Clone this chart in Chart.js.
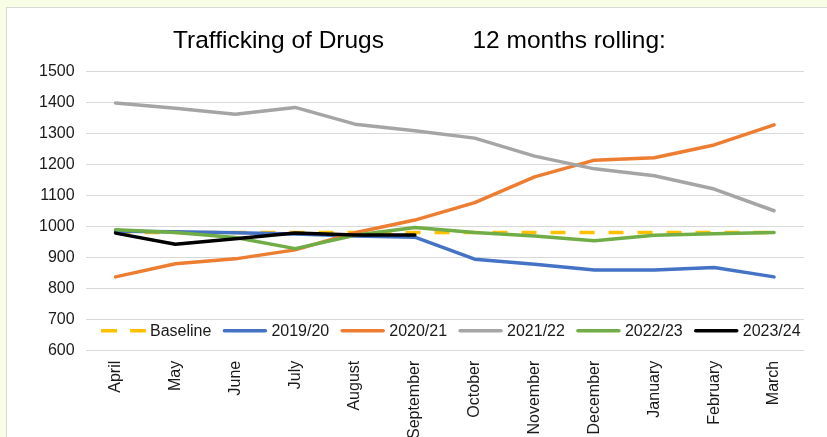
<!DOCTYPE html>
<html>
<head>
<meta charset="utf-8">
<script src="https://cdn.jsdelivr.net/npm/chart.js@4.4.1/dist/chart.umd.min.js"></script>
<style>
  html, body { margin: 0; padding: 0; overflow: hidden; background: #f8fde6; }
  #panel {
    position: absolute; left: 6px; top: 7px; width: 840px; height: 500px;
    background: #fff; border: 1px solid #d9d9d9;
  }
  #wrap { position: absolute; left: 0; top: 0; width: 820px; height: 480px; }
</style>
</head>
<body>
<div id="panel"><div id="wrap"><canvas id="drugsChart"></canvas></div></div>
<script>
var months = ['April', 'May', 'June', 'July', 'August', 'September',
  'October', 'November', 'December', 'January', 'February', 'March'];

var baseline = [981, 981, 981, 981, 981, 981, 981, 981, 981, 981, 981, 981];
var y1920 = [985, 983, 980, 976, 970, 966, 895, 879, 860, 860, 868, 838];
var y2021 = [838, 880, 896, 925, 980, 1021, 1077, 1160, 1214, 1222, 1263, 1328];
var y2122 = [1398, 1381, 1362, 1384, 1330, 1309, 1285, 1227, 1186, 1164, 1121, 1051];
var y2223 = [990, 981, 965, 929, 972, 997, 981, 970, 954, 972, 977, 981];
var y2324 = [979, 943, 961, 979, 973, 973, null, null, null, null, null, null];

var FONT = "'Liberation Sans', Arial, sans-serif";

function series(label, data, color, order, dash) {
  return {
    label: label,
    data: data,
    borderColor: color,
    backgroundColor: color,
    borderWidth: 3.5,
    borderDash: dash || [],
    borderCapStyle: dash ? 'butt' : 'round',
    borderJoinStyle: 'round',
    pointRadius: 0,
    pointHoverRadius: 0,
    tension: 0,
    fill: false,
    spanGaps: false,
    order: order
  };
}

// legend drawn inside the plot, along its bottom edge
const insideLegend = {
  id: 'insideLegend',
  afterDatasetsDraw(chart) {
    const ctx = chart.ctx;
    const area = chart.chartArea;
    const sample = 45, gapText = 4, gapItem = 11;
    ctx.save();
    ctx.font = '16px ' + FONT;
    ctx.textBaseline = 'middle';
    const items = chart.data.datasets.map(function (ds) {
      return { ds: ds, w: ctx.measureText(ds.label).width };
    });
    let total = 0;
    items.forEach(function (it, i) {
      total += sample + gapText + it.w + (i < items.length - 1 ? gapItem : 0);
    });
    let x = (area.left + area.right) / 2 - total / 2 + 6;
    const y = area.bottom - 20;
    items.forEach(function (it) {
      ctx.beginPath();
      ctx.strokeStyle = it.ds.borderColor;
      ctx.lineWidth = 3.5;
      ctx.lineCap = it.ds.borderDash.length ? 'butt' : 'round';
      ctx.setLineDash(it.ds.borderDash.length ? [16, 13] : []);
      ctx.moveTo(x + (it.ds.borderDash.length ? 0 : 2), y);
      ctx.lineTo(x + sample - (it.ds.borderDash.length ? 0 : 2), y);
      ctx.stroke();
      ctx.setLineDash([]);
      ctx.fillStyle = '#1a1a1a';
      ctx.fillText(it.ds.label, x + sample + gapText, y + 1);
      x += sample + gapText + it.w + gapItem;
    });
    ctx.restore();
  }
};

var ctx = document.getElementById('drugsChart');
var drugsChart = new Chart(ctx, {
  type: 'line',
  data: {
    labels: months,
    datasets: [
      series('Baseline', baseline, '#FFC000', 5, [15, 14]),
      series('2019/20', y1920, '#4472C4', 4),
      series('2020/21', y2021, '#ED7D31', 3),
      series('2021/22', y2122, '#A5A5A5', 2),
      series('2022/23', y2223, '#70AD47', 1),
      series('2023/24', y2324, '#000000', 0),
    ],
  },
  options: {
    responsive: true,
    maintainAspectRatio: false,
    animation: false,
    layout: {
      padding: { left: 21, right: 23, top: 0, bottom: 39 }
    },
    plugins: {
      legend: { display: false },
      tooltip: { enabled: false },
      title: {
        display: true,
        text: ' Trafficking of Drugs             12 months rolling:',
        color: '#000',
        font: { family: FONT, size: 24.5, weight: 'normal' },
        padding: { top: 19, bottom: 15 }
      }
    },
    scales: {
      x: {
        offset: true,
        grid: { display: false, drawTicks: false },
        border: { display: false },
        ticks: {
          color: '#1a1a1a',
          font: { family: FONT, size: 16 },
          maxRotation: 90,
          minRotation: 90,
          padding: 10,
          autoSkip: false
        }
      },
      y: {
        min: 600,
        max: 1500,
        grid: { color: '#d9d9d9', lineWidth: 1, drawTicks: false },
        border: { display: false },
        ticks: {
          stepSize: 100,
          color: '#1a1a1a',
          font: { family: FONT, size: 16 },
          padding: 11,
          callback: function (v) { return String(v); }
        }
      }
    }
  },
  plugins: [insideLegend]
});
</script>
</body>
</html>
